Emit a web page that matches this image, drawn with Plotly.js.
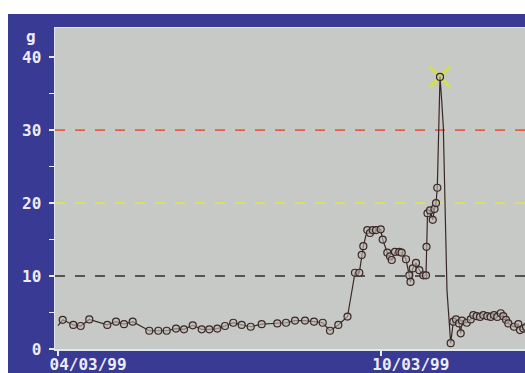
<!DOCTYPE html>
<html>
<head>
<meta charset="utf-8">
<script src="https://cdn.plot.ly/plotly-3.0.1.min.js"></script>
<style>
  html, body { margin: 0; padding: 0; background: #ffffff; width: 525px; height: 373px; overflow: hidden; }
  #chart { position: absolute; left: 8px; top: 14px; width: 517px; height: 359px; }
</style>
</head>
<body>
<div id="chart"></div>
<script>
// Time in days since 04/03/99, value in grams
// Points drawn with a circle marker
const markedDays = [0.087,0.284,0.422,0.582,0.916,1.078,1.227,1.388,1.697,1.864,2.020,2.193,2.342,2.504,2.671,2.812,2.961,3.104,3.258,3.414,3.582,3.786,4.076,4.238,4.405,4.591,4.758,4.920,5.056,5.210,5.381,5.520,5.600,5.645,5.675,5.749,5.799,5.849,5.911,5.998,6.035,6.121,6.171,6.203,6.264,6.344,6.388,6.468,6.530,6.552,6.593,6.654,6.716,6.790,6.840,6.849,6.868,6.914,6.965,6.998,7.026,7.050,7.100,7.299,7.348,7.398,7.454,7.485,7.509,7.597,7.671,7.719,7.782,7.844,7.905,7.980,8.043,8.104,8.165,8.229,8.277,8.327,8.370,8.476,8.556,8.587,8.649,8.699];
const markedGrams = [4.0,3.3,3.15,4.05,3.3,3.75,3.4,3.75,2.5,2.5,2.5,2.8,2.7,3.25,2.7,2.7,2.8,3.15,3.6,3.3,3.05,3.4,3.5,3.6,3.9,3.9,3.75,3.6,2.5,3.3,4.45,10.45,10.45,12.9,14.1,16.3,15.9,16.3,16.3,16.4,15.0,13.2,12.7,12.2,13.3,13.3,13.2,12.3,10.1,9.2,11.05,11.8,10.8,10.1,10.1,14.0,18.6,19.0,17.7,19.2,20.0,22.1,37.3,0.8,3.75,4.05,3.5,2.15,3.9,3.6,4.05,4.65,4.5,4.4,4.65,4.5,4.4,4.65,4.4,4.9,4.5,4.0,3.5,3.05,3.4,2.6,2.8,3.0];
// Line-only points (no marker drawn)
const plainDays = [0.0,7.132,7.162,7.193,7.230];
const plainGrams = [3.2,34.0,30.4,20.0,8.0];
// Peak flag
const peakDay = [7.100];
const peakGrams = [37.3];
// Threshold lines
const limitValues = [30, 20, 10];
const limitColors = ['#e06048', '#e2e24a', '#2e2e2e'];
// Axis labels
const xTickVals = [0, 6];
const xTickText = ['04/03/99', '10/03/99'];
const yTickVals = [0, 10, 20, 30, 40];
const yTickText = ['0', '10', '20', '30', '40'];
const yUnit = 'g';

const allPts = markedDays.map((d, i) => [d, markedGrams[i]])
  .concat(plainDays.map((d, i) => [d, plainGrams[i]]))
  .sort((a, b) => a[0] - b[0]);

const font = { family: 'DejaVu Sans Mono, monospace', size: 16, color: '#ececf8', weight: 'bold' };

const traces = [
  {
    x: peakDay, y: peakGrams,
    mode: 'markers', type: 'scatter',
    marker: { symbol: 'x-thin-open', size: 20, color: '#d4e24a', line: { color: '#d4e24a', width: 3 } },
    showlegend: false
  },
  {
    x: allPts.map(p => p[0]), y: allPts.map(p => p[1]),
    mode: 'lines', type: 'scatter',
    line: { color: '#3a2828', width: 1.2 },
    hoverinfo: 'skip', showlegend: false
  },
  {
    x: markedDays, y: markedGrams,
    mode: 'markers', type: 'scatter',
    marker: { symbol: 'circle', size: 7, color: 'rgba(190,186,176,0.6)', line: { color: '#3a2828', width: 1.2 } },
    showlegend: false
  }
];

const shapes = limitValues.map((v, i) => ({
  type: 'line', xref: 'paper', x0: 0, x1: 1, yref: 'y', y0: v, y1: v,
  line: { color: limitColors[i], width: 1.6, dash: '10px,10px' },
  layer: 'below'
}));

const layout = {
  width: 517, height: 359,
  margin: { l: 47, r: 0, t: 14, b: 24 },
  paper_bgcolor: '#383a94',
  plot_bgcolor: '#c6c9c5',
  font: font,
  showlegend: false,
  xaxis: {
    range: [-0.056, 8.68],
    tickvals: xTickVals, ticktext: xTickText,
    ticks: 'outside', ticklen: 5, tickcolor: '#e8ecf8', tickwidth: 1.5,
    ticklabelposition: 'outside right', ticklabelshift: -10, ticklabelstandoff: 0,
    showgrid: false, zeroline: false,
    showline: true, linecolor: '#dfe6f2', linewidth: 1.5, mirror: true,
    tickfont: font
  },
  yaxis: {
    range: [0, 44],
    tickvals: yTickVals, ticktext: yTickText,
    ticks: 'outside', ticklen: 5, tickcolor: '#e8ecf8', tickwidth: 1.5,
    minor: { tickvals: [5, 15, 25, 35], ticks: 'outside', ticklen: 5, tickcolor: '#e8ecf8', tickwidth: 1.5, showgrid: false },
    ticklabelstandoff: 4,
    showgrid: false, zeroline: false,
    showline: true, linecolor: '#dfe6f2', linewidth: 1.5, mirror: true,
    tickfont: font
  },
  shapes: shapes,
  annotations: [{
    text: yUnit, xref: 'paper', yref: 'paper', x: -0.051, y: 0.975,
    xanchor: 'center', yanchor: 'middle', showarrow: false, font: font
  }]
};

Plotly.newPlot('chart', traces, layout, { displayModeBar: false, staticPlot: true });
</script>
</body>
</html>
